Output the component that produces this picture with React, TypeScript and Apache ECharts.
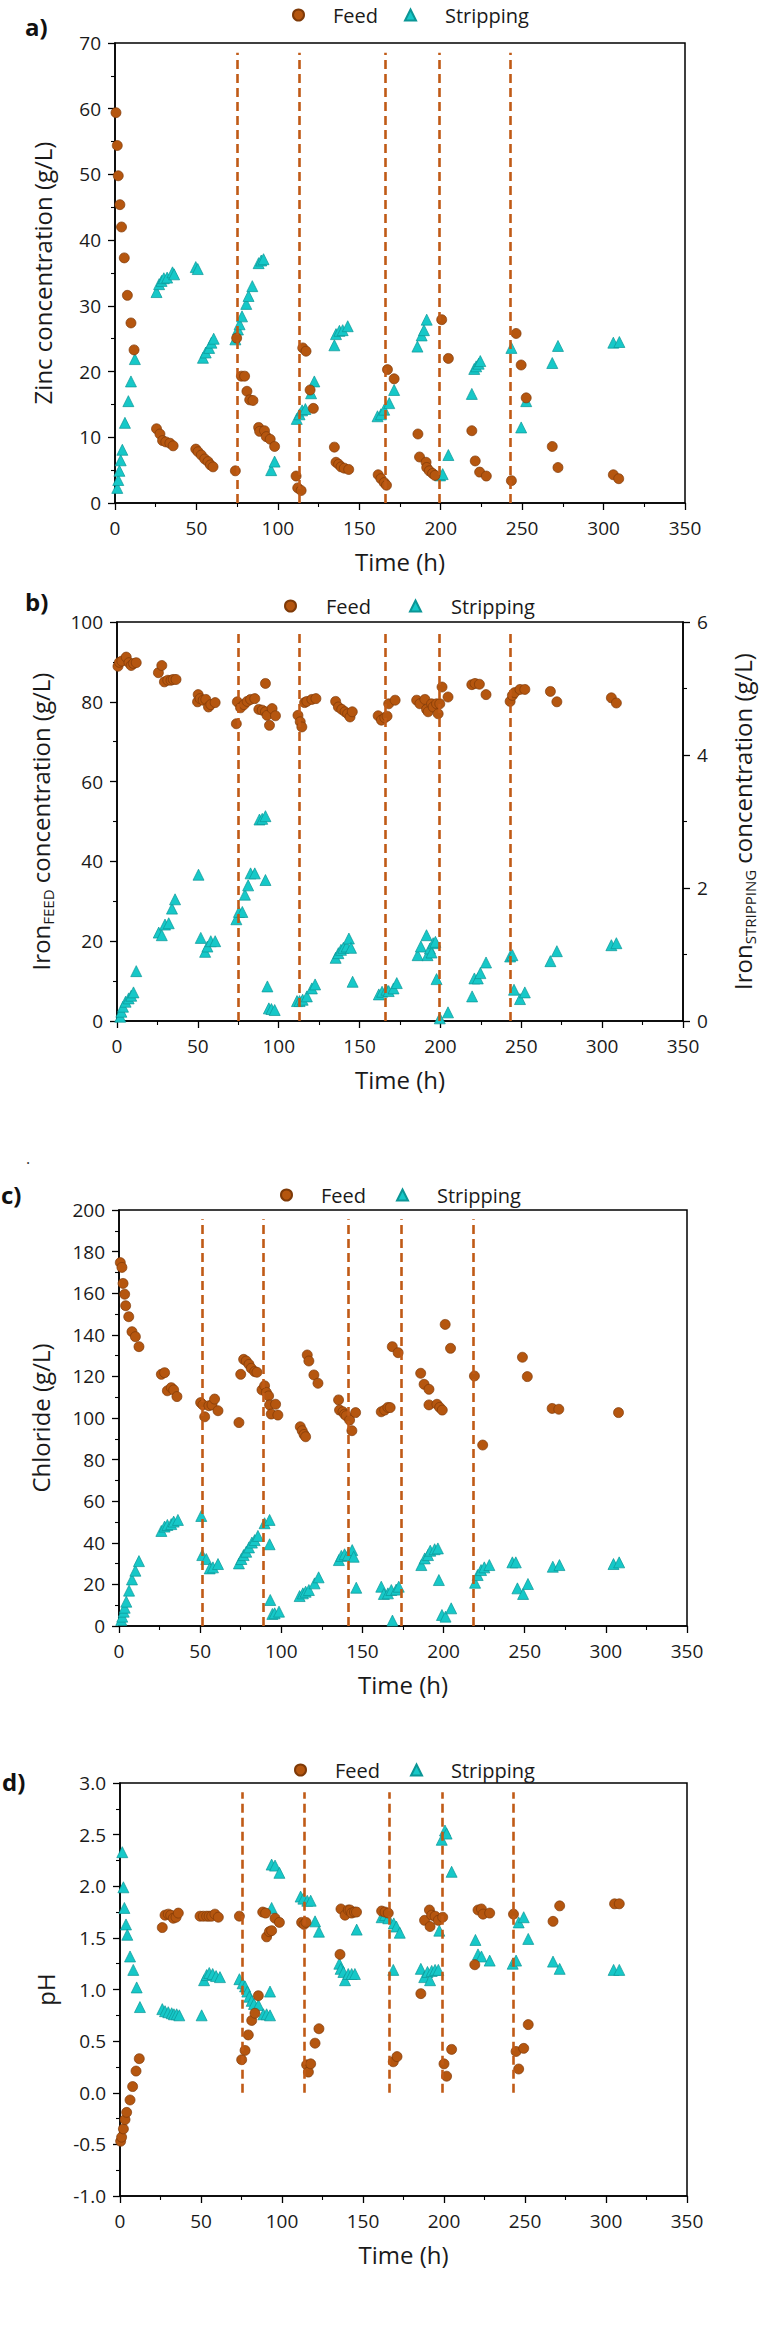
import React, { useEffect, useRef } from "react";
import * as echarts from "echarts";

// ---------- data ----------
const timeTicks = [0, 50, 100, 150, 200, 250, 300, 350];

const zincFeed = [
  [0.6, 59.4], [1.4, 54.4], [2, 49.8], [3, 45.4], [4, 42], [5.7, 37.3], [7.6, 31.6], [9.8, 27.4], [11.7, 23.3],
  [25.5, 11.3], [27.6, 10.5], [29.2, 9.5], [31.2, 9.3], [33.7, 9.1], [35.7, 8.7],
  [49.6, 8.2], [51, 7.8], [53, 7.3], [55.1, 6.7], [57.1, 6.3], [58.6, 5.8], [60.2, 5.5],
  [73.9, 4.9], [74.7, 25.1], [77.6, 19.3], [79.6, 19.3], [81, 17], [82.7, 15.7], [84.7, 15.6],
  [88.2, 11.5], [88.8, 10.9], [91.8, 11], [92.9, 10.1], [95.3, 9.7], [98, 8.6],
  [111.2, 4.1], [112.2, 2.3], [114.3, 1.9], [115.3, 23.6], [117.3, 23.1], [119.8, 17.2], [121.8, 14.4],
  [134.7, 8.5], [135.7, 6.2], [137.3, 5.9], [138.8, 5.5], [140.8, 5.3], [143.5, 5.1],
  [161.6, 4.3], [163.3, 3.7], [165.3, 3.1], [166.7, 2.7], [167.3, 20.3], [171.4, 18.9],
  [186, 10.5], [187, 7.0], [191, 6.2], [191.4, 5.4], [193, 4.9], [195, 4.5], [196.5, 4.2],
  [200.6, 27.9], [204.7, 22.0], [219.1, 11.0], [221.2, 6.4], [223.9, 4.7], [228, 4.1],
  [243.4, 3.4], [246.3, 25.8], [249.4, 21.0], [252.5, 16.0], [268.5, 8.6], [272, 5.4], [306, 4.3], [309.3, 3.7],
];
const zincStrip = [
  [1.4, 2.3], [2, 3.5], [2.7, 4.9], [3.5, 6.5], [4.5, 8.1], [6.1, 12.2], [8.2, 15.5], [9.8, 18.5], [12.2, 21.9],
  [25.5, 32.1], [27.1, 33.3], [28.6, 33.8], [30, 34.2], [32, 34.3], [35.3, 35.1], [36.3, 34.8],
  [49.6, 35.9], [50.8, 35.6],
  [54, 22.1], [55.7, 22.9], [57.8, 23.6], [59.2, 24.4], [60.6, 25],
  [73.9, 24.9], [75.5, 26.4], [76.5, 27.2], [78, 28.4], [80.6, 30.3], [82, 31.5], [84.3, 33],
  [88.2, 36.5], [89.8, 36.9], [91.2, 37.1],
  [95.9, 5.0], [98, 6.3],
  [111.6, 12.8], [113.3, 13.5], [114.9, 14.1], [116.9, 14.3], [120.4, 16.7], [122.4, 18.5],
  [134.7, 24], [135.7, 25.7], [137.8, 26.2], [139.8, 26.3], [142.9, 26.9],
  [161.2, 13.2], [163.3, 13.5], [165.3, 14.2], [168.4, 15.2], [171.4, 17.2],
  [185.7, 23.8], [188.3, 25.5], [189.7, 26.3], [191.4, 27.9],
  [199.6, 4.2], [201.2, 4.4], [204.7, 7.3],
  [219.1, 16.6], [220.6, 20.4], [221.8, 20.8], [223.3, 21.2], [224.3, 21.6],
  [243.4, 23.6], [249.4, 11.5], [252.5, 15.5], [268.5, 21.3], [272, 23.9], [306, 24.4], [309.7, 24.5],
];
const zincDividers = [75, 113, 166, 199, 243];

const ironFeed = [
  [0.6, 88.9], [1.5, 89.9], [3, 90.2], [5.7, 91.2], [7.4, 89.8], [8.8, 89.1], [10.2, 89.6], [11.9, 89.8],
  [25.6, 87.3], [27.7, 89.1], [29.3, 85], [31.4, 85.4], [33.4, 85.4], [34.8, 85.6], [36.5, 85.6],
  [49.8, 80], [50.2, 81.8], [51.4, 80.8], [53.3, 80.4], [54.9, 80.6], [56.6, 78.7], [58, 79.3], [60.7, 79.8],
  [73.8, 74.5], [74.4, 80], [76.4, 78.5], [78.5, 79.3], [80.5, 80.1], [82.6, 80.6], [85.2, 80.8],
  [87.7, 78.1], [89.8, 77.9], [91.8, 84.6], [91.8, 77.5], [92.8, 76.6], [94.3, 74.1], [95.9, 78.3], [98, 76.5],
  [111.9, 76.6], [113.3, 75], [114.3, 73.7], [116, 79.8], [117.4, 80.1], [120.5, 80.6], [123, 80.8],
  [135.2, 80.1], [136.9, 78.7], [139, 78.1], [141, 77.5], [142.6, 77], [144.1, 76.2], [145.5, 77.5],
  [161.5, 76.5], [163.5, 75.4], [165.6, 76], [167, 76.4], [168, 79.5], [172, 80.4],
  [185.3, 80.4], [187.3, 79.5], [190.4, 80.6], [191.4, 78.1], [192.4, 77.5], [194.5, 79.5], [195.5, 78.7],
  [197.6, 79.5], [198.6, 77], [199.6, 79.5], [201, 83.7], [204.7, 81.2],
  [219.4, 84.3], [221.4, 84.6], [224.1, 84.4], [228.2, 81.8],
  [243.1, 80.1], [244.5, 81.6], [245.9, 82.3], [249.2, 83.1], [252.2, 83.1],
  [268, 82.6], [272, 80], [305.7, 81], [308.8, 79.7],
];
const ironStrip = [
  [2, 0.065], [2.7, 0.14], [3.7, 0.215], [5.3, 0.29], [7.2, 0.34], [8.8, 0.38], [10.2, 0.43], [11.9, 0.75],
  [25.8, 1.33], [27.7, 1.29], [29.7, 1.45], [32, 1.47], [34, 1.69], [35.9, 1.83],
  [50.4, 2.2], [51.8, 1.25], [54.5, 1.04], [55.9, 1.12], [58, 1.2], [60.7, 1.2],
  [73.8, 1.53], [75.4, 1.64], [77.5, 1.64], [79.1, 1.9], [81.1, 2.04], [82.6, 2.22], [85.2, 2.22],
  [88.1, 3.03], [89.8, 3.04], [91.8, 3.08], [91.8, 2.12], [93, 0.52], [93.9, 0.19], [95.5, 0.18], [97.5, 0.165],
  [111.3, 0.3], [112.9, 0.3], [114.8, 0.32], [117.4, 0.37], [120.5, 0.49], [122.5, 0.55],
  [135.2, 0.95], [136.9, 1.02], [138.5, 1.07], [140, 1.1], [142, 1.12], [143.4, 1.24], [144.7, 1.1], [145.7, 0.59],
  [161.9, 0.4], [163.9, 0.44], [166.6, 0.47], [168, 0.45], [171, 0.49], [173, 0.57],
  [185.9, 0.99], [187.9, 1.12], [191.4, 1.29], [192, 0.99], [193.5, 1.09], [194.5, 1.03], [195.5, 1.17],
  [196.9, 1.19], [197.6, 0.63], [199.6, 0.04], [204.7, 0.13],
  [219.6, 0.37], [221, 0.64], [223.1, 0.64], [224.7, 0.72], [228.2, 0.88],
  [243.1, 0.97], [244.5, 0.99], [245.5, 0.47], [249.2, 0.33], [252.2, 0.43],
  [268, 0.9], [272, 1.05], [305.7, 1.14], [308.8, 1.17],
];
const ironDividers = [75, 113, 166, 199, 243];

const chlorideFeed = [
  [0.8, 174.7], [1.8, 172.4], [2.5, 164.7], [3.5, 159.5], [4.1, 154], [6, 148.7], [8, 141.5], [10.1, 139.1], [12.3, 134.3],
  [26.1, 121], [28.1, 121.8], [29.8, 113.1], [32.2, 114.6], [33.7, 113.5], [35.7, 110.3],
  [50.3, 107.4], [51.7, 106.3], [52.8, 100.6], [55.4, 105.9], [57.3, 106.3], [58.9, 109.1], [61, 103.5],
  [73.9, 97.8], [75, 121], [76.8, 128.2], [78.4, 127.4], [80.1, 125.8], [81.5, 123.9], [83.6, 122.3], [85, 122],
  [88.1, 113.5], [89.7, 115.5], [90.8, 112.3], [92.2, 110.6], [92.8, 106.3], [93.8, 101.9], [96.5, 106.6], [97.9, 101.4],
  [111.7, 95.8], [112.9, 93.9], [114, 92.1], [115, 91], [116, 130.3], [117, 127.4], [120.1, 120.7], [122.6, 116.7],
  [135.3, 108.7], [135.9, 103.8], [138, 103], [139, 101.8], [140, 101.1], [142.1, 99], [143.5, 93.9], [145.8, 102.6],
  [161.6, 103], [163.7, 103.8], [165.7, 105.1], [167.1, 105], [168.4, 134.3], [172, 131.4],
  [185.9, 121.5], [188, 116.2], [191, 113.8], [191, 106.3], [195.9, 106.6], [197.6, 105.1], [199.2, 103.8],
  [201, 145], [204.3, 133.5], [219, 120.2], [224.1, 87], [248.6, 129.2], [251.6, 119.9],
  [266.9, 104.6], [271, 104.2], [307.8, 102.6],
];
const chlorideStrip = [
  [1.4, 2.9], [2, 4.5], [2.9, 6.9], [3.5, 8.8], [4.5, 11.7], [6.2, 17], [8, 22.4], [10.1, 26.6], [12.3, 31.2],
  [26.1, 45.7], [28.1, 47.8], [29.8, 48.6], [32.2, 49], [33.7, 50.2], [36.3, 51],
  [50.7, 52.9], [51.3, 34.1], [53.8, 32.2], [55.9, 27.7], [57.9, 28.2], [61, 29.8],
  [73.9, 30.1], [75.4, 32.2], [76.8, 34.1], [78.4, 35.7], [80.1, 37.8], [81.9, 40.1], [83.6, 41.3], [85.6, 43.3],
  [89.7, 49.4], [92.8, 51], [92.8, 39.3], [93.2, 12.5], [94.5, 5.8], [95.9, 6.1], [98.6, 6.9],
  [111.3, 14.4], [113.3, 15.7], [115, 16.5], [117, 17.3], [120.5, 20.5], [123, 23.4],
  [135.5, 31.7], [137, 33.7], [139, 34.5], [141.1, 34.1], [143.7, 36.5], [144.6, 33.3], [146.2, 18.4],
  [161.6, 18.9], [163.2, 15.4], [165.7, 15.7], [167.8, 17.3], [168.5, 2.6], [170.8, 17.5], [172.4, 18.9],
  [186.3, 29.3], [188.4, 32.5], [190.4, 34.1], [191.8, 36.2], [194.5, 36.9], [196.5, 37.3], [197.1, 22.1],
  [199, 5.3], [201.2, 4.5], [204.7, 8.5],
  [219.4, 20.8], [221, 24.5], [223.1, 26.9], [225.1, 28.2], [228.2, 29.3],
  [242.4, 30.6], [244.5, 30.6], [245.5, 18.1], [249, 15.4], [252, 20.2],
  [267.3, 28.5], [271.4, 29.3], [304.7, 29.8], [308.2, 30.6],
];
const chlorideDividers = [51, 89, 141.5, 174, 218];

const phFeed = [
  [0.4, -0.47], [1, -0.43], [2.1, -0.35], [3.1, -0.26], [4.1, -0.19], [6.2, -0.07], [7.8, 0.06], [9.9, 0.21], [11.9, 0.33],
  [26.1, 1.6], [27.8, 1.72], [29.8, 1.73], [31.3, 1.72], [32.9, 1.69], [34.6, 1.7], [36, 1.74],
  [49.4, 1.71], [51.4, 1.71], [53.5, 1.71], [55, 1.71], [56.6, 1.71], [58.6, 1.73], [60.7, 1.7],
  [73.7, 1.71], [75.1, 0.32], [77.2, 0.41], [79.2, 0.56], [81.3, 0.7], [83.3, 0.77], [85.4, 0.94],
  [88.1, 1.75], [89.9, 1.74], [90.5, 1.51], [92.2, 1.56], [93.6, 1.57], [95.7, 1.69], [98.4, 1.65],
  [112.1, 1.65], [113.6, 1.63], [114.8, 1.65], [115.2, 0.27], [116.3, 0.2], [117.7, 0.28], [120.4, 0.48], [122.8, 0.62],
  [135.8, 1.34], [136.4, 1.78], [138.9, 1.72], [140.9, 1.77], [142, 1.77], [143, 1.74], [144.7, 1.75], [146, 1.75],
  [161.5, 1.76], [163.6, 1.75], [165.6, 1.74], [168.7, 0.3], [171, 0.35],
  [185.7, 0.96], [188, 1.67], [191, 1.77], [191.4, 1.61], [192.4, 1.72], [194.5, 1.71], [196.5, 1.67], [199.2, 1.7],
  [200, 0.28], [201.6, 0.16], [204.7, 0.42],
  [219, 1.24], [221, 1.77], [223.1, 1.78], [224.1, 1.73], [228.2, 1.74],
  [242.9, 1.73], [244.5, 0.4], [246.1, 0.23], [249.2, 0.43], [252, 0.66],
  [267.3, 1.66], [271.4, 1.81], [305.3, 1.83], [308.2, 1.83],
];
const phStrip = [
  [1.4, 2.33], [2.1, 1.99], [2.7, 1.79], [3.7, 1.63], [4.5, 1.53], [6.2, 1.32], [8.2, 1.19], [10.3, 1.02], [12.3, 0.83],
  [26.1, 0.81], [27.8, 0.79], [29.8, 0.78], [31.9, 0.77], [33.3, 0.76], [35, 0.76], [36.6, 0.75],
  [50.4, 0.75], [51.9, 1.09], [53.5, 1.14], [55.1, 1.16], [57.2, 1.15], [59.3, 1.13], [61.7, 1.12],
  [73.7, 1.1], [75.7, 1.06], [77.2, 1.03], [78.6, 0.98], [79.8, 0.93], [81.3, 0.89], [82.7, 0.86], [85.4, 0.85],
  [88.5, 0.76], [90.5, 0.76], [92.6, 0.75], [92.6, 0.98], [93.6, 1.79], [93.6, 2.21], [95.7, 2.2], [98.4, 2.13],
  [111.5, 1.9], [113.2, 1.88], [115.6, 1.86], [117.7, 1.86], [120.4, 1.66], [122.8, 1.56],
  [135.4, 1.25], [136.2, 1.2], [137.9, 1.17], [138.9, 1.09], [140.9, 1.15], [143, 1.15], [145, 1.15], [146.1, 1.58],
  [161.5, 1.7], [163.6, 1.72], [165.6, 1.69], [168.7, 1.19], [169, 1.64], [170.6, 1.61], [172.7, 1.55],
  [185.7, 1.2], [187.8, 1.12], [189.8, 1.17], [191.4, 1.09], [192.4, 1.18], [194.5, 1.19], [196.5, 1.19], [197.1, 1.57],
  [198.6, 2.45], [200.6, 2.54], [201.6, 2.51], [204.7, 2.14],
  [219.4, 1.48], [221, 1.34], [223.1, 1.32], [228.2, 1.28],
  [242.4, 1.25], [244.5, 1.28], [246.1, 1.65], [249.2, 1.7], [252, 1.49],
  [267.3, 1.27], [271.4, 1.2], [304.7, 1.19], [308.2, 1.19],
];
const phDividers = [75.5, 113.5, 166, 199, 243];

const legendNames = ["Feed", "Stripping"];

// ---------- styling ----------
const FONT = "'Open Sans', 'DejaVu Sans', sans-serif";
const TEXT = "#1a1a1a";
const FEED_COLOR = "#B5560F";
const FEED_BORDER = "#7E3A08";
const STRIP_COLOR = "#16C8C8";
const STRIP_BORDER = "#0B9696";
const DIVIDER_COLOR = "#C05A16";

function xAxisFor(gridIndex: number) {
  return {
    type: "value",
    gridIndex,
    min: timeTicks[0],
    max: timeTicks[timeTicks.length - 1],
    interval: timeTicks[1] - timeTicks[0],
    name: "Time (h)",
    nameLocation: "middle",
    nameGap: 46,
    nameTextStyle: { fontSize: 24, color: TEXT, fontFamily: FONT },
    axisLine: { show: true, onZero: false, lineStyle: { color: "#000", width: 1.5 } },
    axisTick: { show: true, inside: false, length: 7, lineStyle: { color: "#000", width: 1.3 } },
    minorTick: { show: true, splitNumber: 2, length: 4, lineStyle: { color: "#000", width: 1.1 } },
    axisLabel: { fontSize: 19, margin: 15, color: TEXT, fontFamily: FONT },
    splitLine: { show: false },
  };
}

function yAxisFor(gridIndex: number, min: number, max: number, interval: number, name: string, opts: any = {}) {
  const right = opts.position === "right";
  return {
    type: "value",
    gridIndex,
    min,
    max,
    interval,
    position: right ? "right" : "left",
    name,
    nameLocation: "middle",
    nameRotate: 90,
    nameGap: opts.nameGap ?? 58,
    nameTextStyle: {
      fontSize: 24,
      lineHeight: 30,
      color: TEXT,
      fontFamily: FONT,
      rich: {
        sub: { fontSize: 15, lineHeight: 15, verticalAlign: "bottom", color: TEXT, fontFamily: FONT },
      },
    },
    axisLine: { show: true, onZero: false, lineStyle: { color: "#000", width: 1.5 } },
    axisTick: { show: true, inside: false, length: 7, lineStyle: { color: "#000", width: 1.3 } },
    minorTick: { show: true, splitNumber: 2, length: 4, lineStyle: { color: "#000", width: 1.1 } },
    axisLabel: {
      fontSize: 19,
      margin: 14,
      color: TEXT,
      fontFamily: FONT,
      formatter: opts.formatter,
    },
    splitLine: { show: false },
  };
}

function dividerLines(xs: number[], top: number) {
  return {
    silent: true,
    symbol: ["none", "none"],
    label: { show: false },
    emphasis: { disabled: true },
    lineStyle: { color: DIVIDER_COLOR, width: 2.6, type: [9, 5], opacity: 1 },
    data: xs.map((x) => [{ coord: [x, 0] }, { coord: [x, top] }]),
  };
}

function feedSeries(data: number[][], xi: number, yi: number, dividers: number[], top: number) {
  return {
    name: "Feed",
    type: "scatter",
    xAxisIndex: xi,
    yAxisIndex: yi,
    symbol: "circle",
    symbolSize: 10,
    z: 3,
    itemStyle: { color: FEED_COLOR, borderColor: FEED_BORDER, borderWidth: 0.7, opacity: 1 },
    data,
    markLine: dividerLines(dividers, top),
  };
}

function stripSeries(data: number[][], xi: number, yi: number) {
  return {
    name: "Stripping",
    type: "scatter",
    xAxisIndex: xi,
    yAxisIndex: yi,
    symbol: "triangle",
    symbolSize: 11,
    z: 2,
    itemStyle: { color: STRIP_COLOR, borderColor: STRIP_BORDER, borderWidth: 0.7, opacity: 1 },
    data,
  };
}

function legendAt(left: number, top: number, itemGap: number, pad: number) {
  return {
    data: legendNames,
    left,
    top,
    orient: "horizontal",
    itemWidth: 11,
    itemHeight: 11,
    itemGap,
    selectedMode: false,
    textStyle: { fontSize: 20, color: TEXT, fontFamily: FONT, padding: [0, 0, 0, pad] },
  };
}

function panelLabel(text: string, left: number, top: number) {
  return {
    type: "text",
    left,
    top,
    style: { text, fontSize: 24, fontWeight: "bold", fill: "#111", fontFamily: FONT },
  };
}

export default function App() {
  const ref = useRef<HTMLDivElement>(null);

  useEffect(() => {
    if (!ref.current) return;
    const chart = echarts.init(ref.current, undefined, { renderer: "svg" });
    const option: any = {
      animation: false,
      backgroundColor: "#ffffff",
      textStyle: { fontFamily: FONT },
      grid: [
        { left: 115, top: 43, width: 570, height: 460, show: true, borderColor: "#000", borderWidth: 1.5, backgroundColor: "transparent" },
        { left: 117, top: 622, width: 570, height: 399, show: true, borderColor: "#000", borderWidth: 1.5, backgroundColor: "transparent" },
        { left: 119, top: 1210, width: 568, height: 416, show: true, borderColor: "#000", borderWidth: 1.5, backgroundColor: "transparent" },
        { left: 120, top: 1783, width: 567, height: 413, show: true, borderColor: "#000", borderWidth: 1.5, backgroundColor: "transparent" },
      ],
      xAxis: [xAxisFor(0), xAxisFor(1), xAxisFor(2), xAxisFor(3)],
      yAxis: [
        yAxisFor(0, 0, 70, 10, "Zinc concentration (g/L)", { nameGap: 58 }),
        yAxisFor(1, 0, 100, 20, "Iron{sub|FEED} concentration (g/L)", { nameGap: 62 }),
        yAxisFor(1, 0, 6, 2, "Iron{sub|STRIPPING} concentration (g/L)", { position: "right", nameGap: 44 }),
        yAxisFor(2, 0, 200, 20, "Chloride (g/L)", { nameGap: 64 }),
        yAxisFor(3, -1, 3, 0.5, "pH", { nameGap: 60, formatter: (v: number) => v.toFixed(1) }),
      ],
      legend: [
        legendAt(287, 0, 26, 24),
        legendAt(279, 591, 38, 25),
        legendAt(275, 1180, 30, 24),
        legendAt(289, 1755, 30, 24),
      ],
      graphic: [
        panelLabel("a)", 25, 14),
        panelLabel("b)", 25, 589),
        panelLabel("c)", 1, 1182),
        panelLabel("d)", 2, 1769),
        { type: "text", left: 26, top: 1150, style: { text: ".", fontSize: 16, fill: "#333", fontFamily: FONT } },
      ],
      series: [
        feedSeries(zincFeed, 0, 0, zincDividers, 68.5),
        stripSeries(zincStrip, 0, 0),
        feedSeries(ironFeed, 1, 1, ironDividers, 97.9),
        stripSeries(ironStrip, 1, 2),
        feedSeries(chlorideFeed, 2, 3, chlorideDividers, 195.5),
        stripSeries(chlorideStrip, 2, 3),
        feedSeries(phFeed, 3, 4, phDividers, 2.91),
        stripSeries(phStrip, 3, 4),
      ],
    };
    chart.setOption(option);
    return () => chart.dispose();
  }, []);

  return (
    <div
      ref={ref}
      style={{ position: "absolute", left: 0, top: 0, width: 765, height: 2345, background: "#fff" }}
    />
  );
}
